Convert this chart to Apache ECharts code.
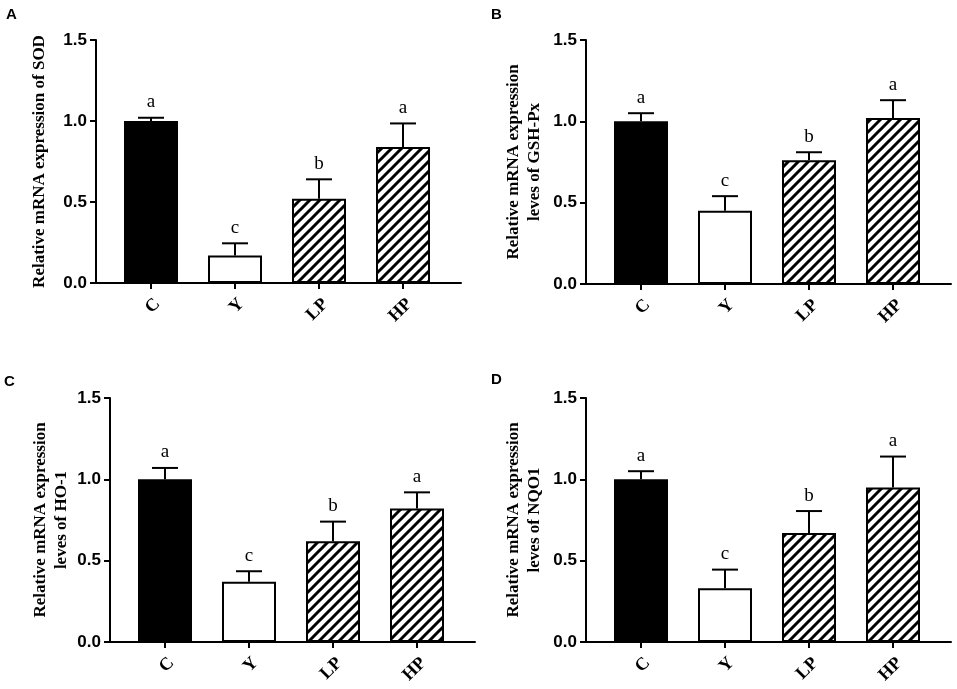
<!DOCTYPE html>
<html>
<head>
<meta charset="utf-8">
<script src="https://cdn.jsdelivr.net/npm/echarts@6/dist/echarts.min.js"></script>
<style>
  html, body { margin: 0; padding: 0; background: #fff; }
  #chart { width: 957px; height: 689px; }
</style>
</head>
<body>
<div id="chart"></div>
<script>
// groups on the x axis
var categories = ['C', 'Y', 'LP', 'HP'];
var yTicks = [0, 0.5, 1.0, 1.5];

// A: SOD
var sodMean = [1.00, 0.17, 0.52, 0.84];
var sodErr = [0.02, 0.075, 0.12, 0.145];
var sodSig = ['a', 'c', 'b', 'a'];
// B: GSH-Px
var gshMean = [1.00, 0.45, 0.76, 1.02];
var gshErr = [0.05, 0.09, 0.05, 0.11];
var gshSig = ['a', 'c', 'b', 'a'];
// C: HO-1
var hoMean = [1.00, 0.37, 0.62, 0.82];
var hoErr = [0.07, 0.065, 0.12, 0.10];
var hoSig = ['a', 'c', 'b', 'a'];
// D: NQO1
var nqoMean = [1.00, 0.33, 0.67, 0.95];
var nqoErr = [0.05, 0.115, 0.135, 0.19];
var nqoSig = ['a', 'c', 'b', 'a'];

var SANS = 'Liberation Sans, Arial, sans-serif';
var SERIF = 'Liberation Serif, Times New Roman, serif';

// diagonal hatch used for LP / HP
function makeHatch() {
  var c = document.createElement('canvas');
  c.width = 10;
  c.height = 10;
  var ctx = c.getContext('2d');
  ctx.fillStyle = '#fff';
  ctx.fillRect(0, 0, 10, 10);
  ctx.strokeStyle = '#000';
  ctx.lineWidth = 3;
  ctx.beginPath();
  ctx.moveTo(-2, 12); ctx.lineTo(12, -2);
  ctx.moveTo(-7, 7); ctx.lineTo(7, -7);
  ctx.moveTo(3, 17); ctx.lineTo(17, 3);
  ctx.stroke();
  return c;
}
var hatch = { image: makeHatch(), repeat: 'repeat' };
var fills = ['#000', '#fff', hatch, hatch];

var panels = [
  { tag: 'A', name: 'Relative mRNA expression of SOD', mean: sodMean, err: sodErr, sig: sodSig,
    left: 96, top: 40, height: 243, nameGap: 46, tagX: 6, tagY: 7 },
  { tag: 'B', name: 'Relative mRNA expression\nleves of GSH-Px', mean: gshMean, err: gshErr, sig: gshSig,
    left: 586, top: 40, height: 244, nameGap: 41, tagX: 491, tagY: 7 },
  { tag: 'C', name: 'Relative mRNA expression\nleves of HO-1', mean: hoMean, err: hoErr, sig: hoSig,
    left: 110, top: 398, height: 244, nameGap: 38, tagX: 4, tagY: 374 },
  { tag: 'D', name: 'Relative mRNA expression\nleves of NQO1', mean: nqoMean, err: nqoErr, sig: nqoSig,
    left: 586, top: 398, height: 244, nameGap: 41, tagX: 491, tagY: 372 }
];

var grid = [], xAxis = [], yAxis = [], series = [], title = [];

panels.forEach(function (p, i) {
  var fi = i * 2, bi = i * 2 + 1;
  // frame grid: carries the axis lines and y ticks
  grid.push({ left: p.left, top: p.top, width: 365, height: p.height });
  // bar grid: a bit narrower, gives the gap after the y axis
  grid.push({ left: p.left + 13, top: p.top, width: 336, height: p.height });

  xAxis.push({
    gridIndex: fi, type: 'value', min: 0, max: 1,
    axisLine: { show: true, lineStyle: { color: '#000', width: 2 } },
    axisTick: { show: false }, axisLabel: { show: false }, splitLine: { show: false }
  });
  xAxis.push({
    gridIndex: bi, type: 'category', data: categories,
    axisLine: { show: false },
    axisTick: { show: true, alignWithLabel: true, length: 6, lineStyle: { color: '#000', width: 2 } },
    axisLabel: {
      interval: 0, rotate: 45, margin: 12, verticalAlign: 'top',
      color: '#000', fontFamily: SERIF, fontWeight: 'bold', fontSize: 18
    }
  });

  yAxis.push({
    gridIndex: fi, type: 'value', min: yTicks[0], max: yTicks[yTicks.length - 1], interval: 0.5,
    name: p.name, nameLocation: 'middle', nameRotate: 90, nameGap: p.nameGap,
    nameTextStyle: { color: '#000', fontFamily: SERIF, fontWeight: 'bold', fontSize: 17, lineHeight: 21 },
    axisLine: { show: true, lineStyle: { color: '#000', width: 2 } },
    axisTick: { show: true, length: 6, lineStyle: { color: '#000', width: 2 } },
    axisLabel: {
      color: '#000', fontFamily: SANS, fontWeight: 'bold', fontSize: 17, margin: 9,
      formatter: function (v) { return v.toFixed(1); }
    },
    splitLine: { show: false }
  });
  yAxis.push({
    gridIndex: bi, type: 'value', min: 0, max: 1.5, show: false
  });

  series.push({
    type: 'bar', xAxisIndex: bi, yAxisIndex: bi, barWidth: 54,
    data: p.mean.map(function (v, k) {
      return { value: v, itemStyle: { color: fills[k] } };
    }),
    itemStyle: { borderColor: '#000', borderWidth: 2 },
    silent: true, animation: false
  });

  series.push({
    type: 'custom', xAxisIndex: bi, yAxisIndex: bi, z: 5, silent: true, animation: false,
    data: p.mean.map(function (v, k) { return [k, v, p.err[k]]; }),
    renderItem: function (params, api) {
      var k = api.value(0);
      var base = api.coord([k, api.value(1)]);
      var top = api.coord([k, api.value(1) + api.value(2)]);
      var ls = { stroke: '#000', lineWidth: 2 };
      return {
        type: 'group',
        children: [
          { type: 'line', shape: { x1: base[0], y1: base[1], x2: top[0], y2: top[1] }, style: ls },
          { type: 'line', shape: { x1: top[0] - 13, y1: top[1], x2: top[0] + 13, y2: top[1] }, style: ls },
          { type: 'text', x: top[0], y: top[1] - 6,
            style: { text: p.sig[params.dataIndex], fill: '#000', font: '19px ' + SERIF,
                     align: 'center', verticalAlign: 'bottom' } }
        ]
      };
    }
  });

  title.push({
    text: p.tag, left: p.tagX, top: p.tagY, padding: 0,
    textStyle: { color: '#000', fontFamily: SANS, fontWeight: 'bold', fontSize: 15 }
  });
});

var myChart = echarts.init(document.getElementById('chart'), null, { renderer: 'canvas' });
myChart.setOption({
  backgroundColor: '#fff',
  animation: false,
  title: title,
  grid: grid,
  xAxis: xAxis,
  yAxis: yAxis,
  series: series
});
</script>
</body>
</html>
